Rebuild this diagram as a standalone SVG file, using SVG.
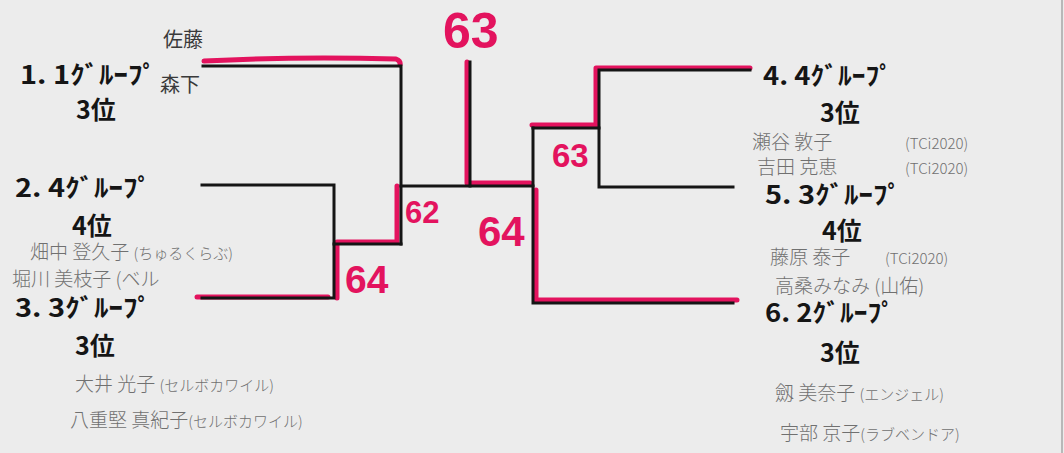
<svg xmlns="http://www.w3.org/2000/svg" width="1064" height="453" viewBox="0 0 1064 453">
<style>
.bk{fill:none;stroke:#151515;stroke-width:3;stroke-linejoin:miter;stroke-linecap:square}
.rd{fill:none;stroke:#e3135e;stroke-width:5;stroke-linecap:round;stroke-linejoin:round}
.lbl{font-family:"Noto Sans CJK JP","Noto Sans",sans-serif;font-weight:bold;fill:#151515;font-size:25px}
.hw{font-family:"Noto Sans CJK JP","Noto Sans",sans-serif;font-weight:300;fill:#707070;font-size:19px}
.hs{font-size:15px}
.dk{fill:#3a3a3a;font-weight:400;font-size:20px}
.num{font-family:"Liberation Sans","Noto Sans",sans-serif;fill:#e3135e;font-weight:bold}
</style>
<rect width="1064" height="453" fill="#ececec"/>
<line x1="1062" y1="0" x2="1062" y2="453" stroke="#b8b8b8" stroke-width="2"/>

<g id="connectors">
  <path class="rd" d="M204,61 Q300,56 396,59 Q401,61 400,65"/>
  <path class="rd" d="M197,297 H328"/>
  <path class="rd" d="M337,298 V242 H397 V186"/>
  <path class="rd" d="M467,62 V183 H530"/>
  <path class="rd" d="M532,125 H596 V68 H750"/>
  <path class="rd" d="M536,190 V300 H737"/>

  <path class="bk" d="M203,66 H401 V244"/>
  <path class="bk" d="M202,185 H334 V298 H202"/>
  <path class="bk" d="M334,244 H401"/>
  <path class="bk" d="M401,186 H533"/>
  <path class="bk" d="M470,62 V186"/>
  <path class="bk" d="M533,128 H599"/>
  <path class="bk" d="M533,128 V303 H733"/>
  <path class="bk" d="M750,70 H599 V187 H733"/>
</g>

<g id="scores">
  <text class="num" x="443" y="48" font-size="50">63</text>
  <text class="num" x="405" y="223" font-size="31">62</text>
  <text class="num" x="478" y="246" font-size="42">64</text>
  <text class="num" x="552" y="167" font-size="33">63</text>
  <text class="num" x="345" y="293" font-size="39">64</text>
</g>

<g id="n1">
  <text class="lbl" x="20" y="84" textLength="137" lengthAdjust="spacingAndGlyphs">1. 1ｸﾞﾙｰﾌﾟ</text>
  <text class="lbl" x="76" y="119">3位</text>
  <text class="hw dk" x="163" y="47">佐藤</text>
  <text class="hw dk" x="160" y="92">森下</text>
</g>
<g id="n2">
  <text class="lbl" x="15" y="197" textLength="137" lengthAdjust="spacingAndGlyphs">2. 4ｸﾞﾙｰﾌﾟ</text>
  <text class="lbl" x="72" y="235">4位</text>
  <text class="hw" x="30" y="259">畑中 登久子 <tspan class="hs">(ちゅるくらぶ)</tspan></text>
  <text class="hw" x="12" y="286">堀川 美枝子 (ベル</text>
</g>
<g id="n3">
  <text class="lbl" x="15" y="317" textLength="137" lengthAdjust="spacingAndGlyphs">3. 3ｸﾞﾙｰﾌﾟ</text>
  <text class="lbl" x="75" y="355">3位</text>
  <text class="hw" x="75" y="391">大井 光子 <tspan class="hs">(セルボカワイル)</tspan></text>
  <text class="hw" x="70" y="427">八重堅 真紀子<tspan class="hs">(セルボカワイル)</tspan></text>
</g>
<g id="n4">
  <text class="lbl" x="763" y="85" textLength="130" lengthAdjust="spacingAndGlyphs">4. 4ｸﾞﾙｰﾌﾟ</text>
  <text class="lbl" x="820" y="122">3位</text>
  <text class="hw" x="752" y="149">瀬谷 敦子 <tspan class="hs" x="905">(TCi2020)</tspan></text>
  <text class="hw" x="757" y="174">吉田 克恵 <tspan class="hs" x="905">(TCi2020)</tspan></text>
</g>
<g id="n5">
  <text class="lbl" x="765" y="204" textLength="137" lengthAdjust="spacingAndGlyphs">5. 3ｸﾞﾙｰﾌﾟ</text>
  <text class="lbl" x="822" y="240">4位</text>
  <text class="hw" x="770" y="264">藤原 泰子 <tspan class="hs" x="885">(TCi2020)</tspan></text>
  <text class="hw" x="775" y="293">高桑みなみ (山佑)</text>
</g>
<g id="n6">
  <text class="lbl" x="765" y="322" textLength="130" lengthAdjust="spacingAndGlyphs">6. 2ｸﾞﾙｰﾌﾟ</text>
  <text class="lbl" x="820" y="362">3位</text>
  <text class="hw" x="775" y="400">劔 美奈子 <tspan class="hs">(エンジェル)</tspan></text>
  <text class="hw" x="780" y="440">宇部 京子<tspan class="hs">(ラブベンドア)</tspan></text>
</g>
</svg>
